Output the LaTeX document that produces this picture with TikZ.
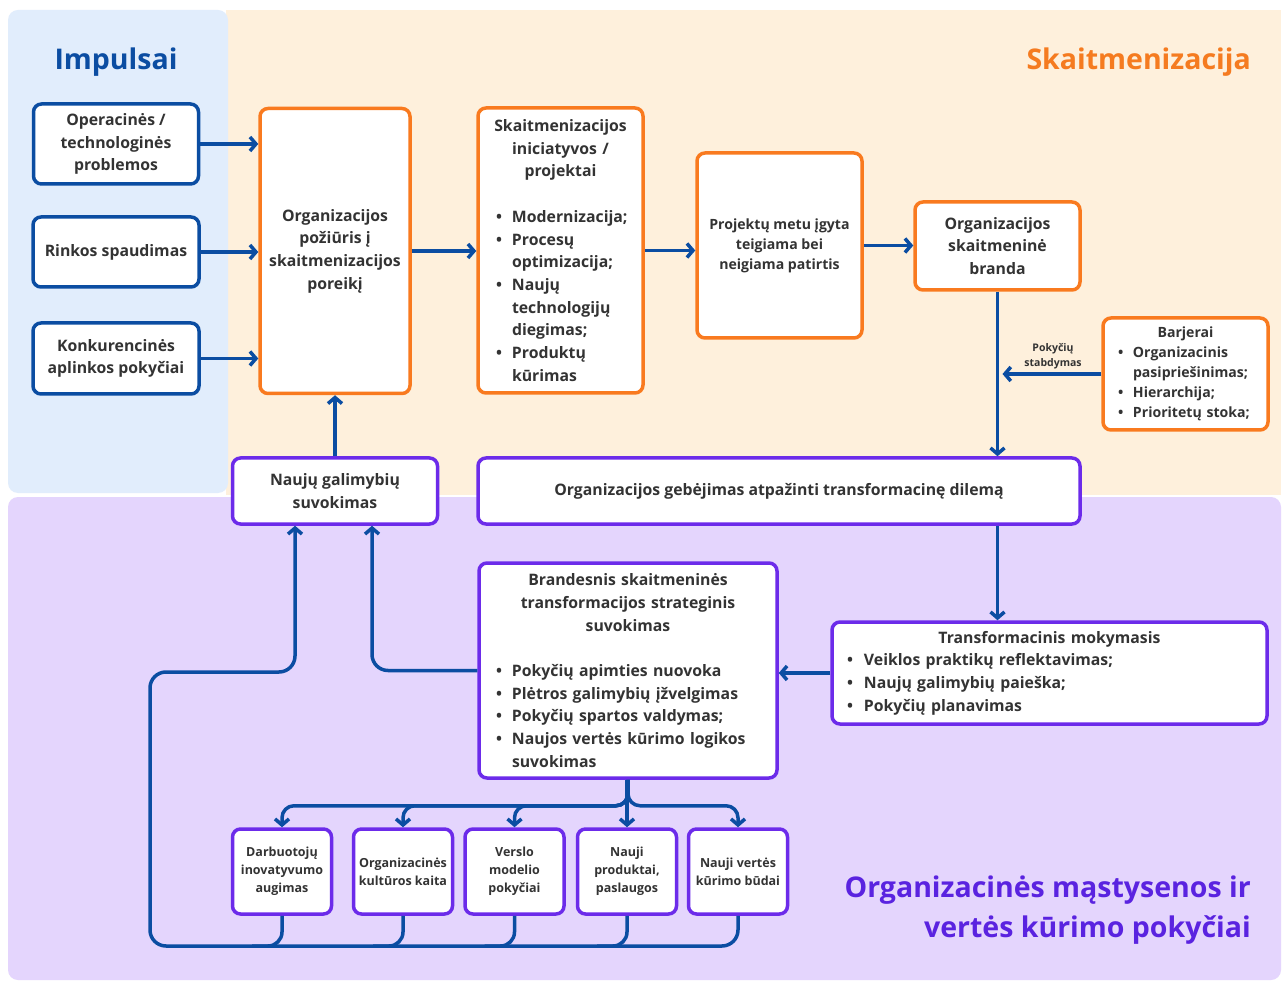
\documentclass[tikz,border=0pt]{standalone}
\usepackage{fontspec}
\setmainfont{Open Sans}
\newfontfamily\bodyf{Open Sans}
\usetikzlibrary{arrows.meta,calc}
\definecolor{dblue}{HTML}{0B4DA2}
\definecolor{orng}{HTML}{F97A1F}
\definecolor{purp}{HTML}{6C2BEA}
\definecolor{txt}{HTML}{333333}
\definecolor{pblue}{HTML}{E1EDFC}
\definecolor{pcream}{HTML}{FEF0DC}
\definecolor{plav}{HTML}{E4D5FD}
\definecolor{torange}{HTML}{F57B20}
\definecolor{tpurp}{HTML}{5A23E0}
\newcommand\blist[1]{\par\leftskip=#1\relax\rightskip=0pt plus 1fil\relax\parfillskip=0pt plus 1fil\relax\parindent=0pt\relax}
\newcommand\bitem[2][14pt]{\par\hangindent=#1\hangafter=1\noindent\hbox to #1{\textbullet\hss}#2}
\tikzset{
  box/.style={rectangle, rounded corners=8pt, fill=white, line width=3.5pt, inner sep=0pt, align=center, text=txt, font=\bodyf\bfseries\fontsize{15.8}{22.7}\selectfont},
  bbox/.style={box, draw=dblue},
  obox/.style={box, draw=orng},
  pbox/.style={box, draw=purp},
  smallbox/.style={pbox, font=\bodyf\bfseries\fontsize{12.5}{18}\selectfont, minimum width=99pt, minimum height=85pt},
  arr/.style={draw=dblue, line width=3.5pt, -{Straight Barb[length=6pt,width=14pt]}},
  ln/.style={draw=dblue, line width=3.5pt},
  title/.style={font=\bfseries\fontsize{28.5}{40}\selectfont, inner sep=0pt}
}
\begin{document}
\begin{tikzpicture}[x=1pt,y=-1pt]
\useasboundingbox (0,0) rectangle (1283,981);
\fill[white] (0,0) rectangle (1283,981);
% panels
\fill[pcream] (226,10) rectangle (1281,495);
\fill[pblue, rounded corners=10pt] (8,10) rectangle (228,493);
\fill[plav, rounded corners=10pt] (8,497) rectangle (1281,980);
% titles
\node[title, text=dblue] (t1) at (116,62) {Impulsai};
\node[title, text=torange, anchor=east] (t2) at (1251,62) {Skaitmenizacija};
\node[title, text=tpurp, anchor=east, align=right] (t3) at (1251,910) {Organizacinės mąstysenos ir\\vertės kūrimo pokyčiai};
% impulses
\node[bbox, minimum width=165pt, minimum height=80pt] (o1) at (116,144) {Operacinės /\\technologinės\\problemos};
\node[bbox, minimum width=166pt, minimum height=70pt] (o2) at (116,252) {Rinkos spaudimas};
\node[bbox, minimum width=166pt, minimum height=71pt] (o3) at (116,358.5) {Konkurencinės\\aplinkos pokyčiai};
% orange boxes
\node[obox, minimum width=150pt, minimum height=285pt] (A) at (335,251) {Organizacijos\\požiūris į\\skaitmenizacijos\\poreikį};
\node[obox, minimum width=165pt, minimum height=285pt, text width=165pt] (B) at (560.5,250.5) {Skaitmenizacijos\\iniciatyvos /\\projektai\par\vspace{22.7pt}\blist{18pt}\bitem[16pt]{Modernizacija;}\bitem[16pt]{Procesų\newline optimizacija;}\bitem[16pt]{Naujų\newline technologijų\newline diegimas;}\bitem[16pt]{Produktų\newline kūrimas}\par};
\node[obox, minimum width=165pt, minimum height=185pt, font=\bodyf\bfseries\fontsize{14.1}{20}\selectfont] (C) at (779.5,245.5) {Projektų metu įgyta\\teigiama bei\\neigiama patirtis};
\node[obox, minimum width=165pt, minimum height=88pt] (D) at (997.5,246) {Organizacijos\\skaitmeninė\\branda};
\node[obox, minimum width=165pt, minimum height=112pt, text width=165pt, font=\bodyf\bfseries\fontsize{14.1}{20}\selectfont] (E) at (1185.5,374) {Barjerai\blist{15pt}\bitem[15pt]{Organizacinis\newline pasipriešinimas;}\bitem[15pt]{Hierarchija;}\bitem[15pt]{Prioritetų stoka;}\par};
\node[font=\bodyf\bfseries\fontsize{10.5}{15.5}\selectfont, text=txt, align=center, inner sep=0pt] (lbl) at (1053,356) {Pokyčių\\stabdymas};
% purple boxes
\node[pbox, minimum width=205pt, minimum height=66pt] (N) at (335,491) {Naujų galimybių\\suvokimas};
\node[pbox, minimum width=602pt, minimum height=66pt] (G) at (779,491) {Organizacijos gebėjimas atpažinti transformacinę dilemą};
\node[pbox, minimum width=298pt, minimum height=215pt, text width=298pt] (S) at (628,670.5) {Brandesnis skaitmeninės\\transformacijos strateginis\\suvokimas\par\vspace{22.7pt}\blist{17pt}\bitem[16pt]{Pokyčių apimties nuovoka}\bitem[16pt]{Plėtros galimybių įžvelgimas}\bitem[16pt]{Pokyčių spartos valdymas;}\bitem[16pt]{Naujos vertės kūrimo logikos\newline suvokimas}\par};
\node[pbox, minimum width=435pt, minimum height=102pt, text width=435pt] (T) at (1049.5,673) {Transformacinis mokymasis\blist{15pt}\bitem[17pt]{Veiklos praktikų reflektavimas;}\bitem[17pt]{Naujų galimybių paieška;}\bitem[17pt]{Pokyčių planavimas}\par};
% bottom boxes
\node[smallbox] (b1) at (282,871.5) {Darbuotojų\\inovatyvumo\\augimas};
\node[smallbox] (b2) at (403,871.5) {Organizacinės\\kultūros kaita};
\node[smallbox] (b3) at (514.5,871.5) {Verslo\\modelio\\pokyčiai};
\node[smallbox] (b4) at (627,871.5) {Nauji\\produktai,\\paslaugos};
\node[smallbox] (b5) at (738,871.5) {Nauji vertės\\kūrimo būdai};
% arrows top
\draw[arr] (o1.east) -- (o1.east -| A.west);
\draw[arr] (o2.east) -- (o2.east -| A.west);
\draw[arr] (o3.east) -- (o3.east -| A.west);
\draw[arr] (A.east) -- (A.east -| B.west);
\draw[arr] (B.east) -- (B.east -| C.west);
\draw[arr] (C.east) -- (C.east -| D.west);
\draw[arr] (D.south) -- (D.south |- G.north);
\draw[arr, shorten >=5pt] (E.west) -- (E.west -| D.south);
\draw[arr] (N.north) -- (N.north |- A.south);
\draw[arr] (D.south |- G.south) -- (D.south |- T.north);
\draw[arr] (T.west) -- (T.west -| S.east);
\draw[arr, rounded corners=16pt] (S.west) -| ([xshift=37pt]N.south);
% branch to bottom boxes
\coordinate (BR) at ($(S.south)+(0,26)$);
\draw[arr, rounded corners=12pt] (S.south) |- (b1.north |- BR) -- (b1.north);
\draw[arr, rounded corners=12pt] (S.south) |- (b2.north |- BR) -- (b2.north);
\draw[arr, rounded corners=12pt] (S.south) |- (b3.north |- BR) -- (b3.north);
\draw[arr] (b4.north |- S.south) -- (b4.north);
\draw[arr, rounded corners=12pt] (S.south) |- (b5.north |- BR) -- (b5.north);
% feedback loop
\coordinate (LL) at (150,946);
\coordinate (LT) at (295,672);
\draw[arr, rounded corners=16pt] (b5.south) |- (LL) |- (LT) -- (LT |- N.south);
\draw[ln, rounded corners=14pt] (b1.south) |- ($(b1.south |- LL)+(-30,0)$);
\draw[ln, rounded corners=14pt] (b2.south) |- ($(b2.south |- LL)+(-30,0)$);
\draw[ln, rounded corners=14pt] (b3.south) |- ($(b3.south |- LL)+(-30,0)$);
\draw[ln, rounded corners=14pt] (b4.south) |- ($(b4.south |- LL)+(-30,0)$);
\end{tikzpicture}
\end{document}
